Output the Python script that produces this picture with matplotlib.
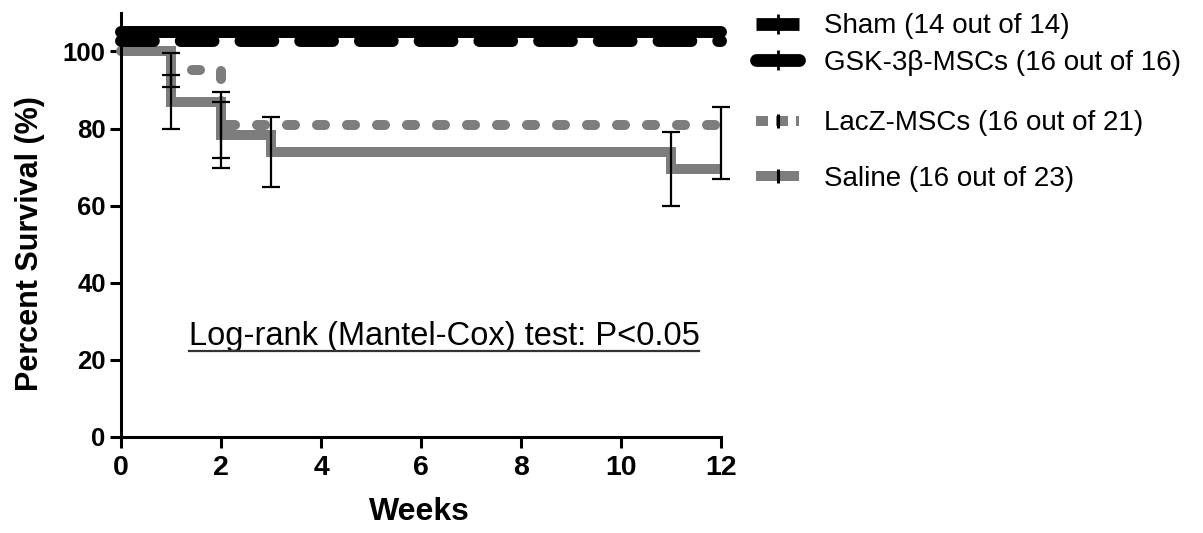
import matplotlib
matplotlib.use("Agg")
import matplotlib.pyplot as plt
import matplotlib.transforms as mtransforms
from matplotlib.lines import Line2D
import numpy as np

plt.rcParams['font.family'] = ['Liberation Sans', 'DejaVu Sans']

# ---- data ----
weeks_sham = [0, 12]
surv_sham = [100, 100]
weeks_gsk = [0, 12]
surv_gsk = [100, 100]
weeks_lacz = [0, 1, 2, 12]
surv_lacz = [100, 95.2, 81.0, 81.0]
weeks_saline = [0, 1, 2, 3, 11, 12]
surv_saline = [100, 87.0, 78.3, 73.9, 69.6, 69.6]

err_x = [1, 1, 2, 2, 3, 11, 12]
err_lo = [80.0, 90.7, 69.7, 72.4, 64.8, 60.0, 66.8]
err_hi = [93.8, 99.7, 86.9, 89.5, 83.0, 79.2, 85.5]

labels = ["Sham (14 out of 14)", "GSK-3\u03b2-MSCs (16 out of 16)",
          "LacZ-MSCs (16 out of 21)", "Saline (16 out of 23)"]
xticks = [0, 2, 4, 6, 8, 10, 12]
yticks = [0, 20, 40, 60, 80, 100]
annot = "Log-rank (Mantel-Cox) test: P<0.05"

GRAY = '#7d7d7d'

fig = plt.figure(figsize=(12.03, 5.33), dpi=100)
ax = fig.add_axes([121/1203, 96/533, 600/1203, 0.7956])
ax.set_xlim(0, 12)
ax.set_ylim(0, 110)

# saline
ax.plot(weeks_saline, surv_saline, drawstyle='steps-post', color=GRAY, lw=7.2,
        solid_capstyle='butt', solid_joinstyle='miter', zorder=2, clip_on=False)
# lacz
ax.plot(weeks_lacz, surv_lacz, drawstyle='steps-post', color=GRAY, lw=7.2,
        dashes=(0.8, 2.2), dash_capstyle='round', zorder=2, clip_on=False)

# sham & gsk drawn at 100 with a visual offset (as in the source figure)
off_sham = mtransforms.offset_copy(ax.transData, fig=fig, x=0, y=14.0, units='points')
off_gsk = mtransforms.offset_copy(ax.transData, fig=fig, x=0, y=7.4, units='points')
ax.plot(weeks_gsk, surv_gsk, color='black', lw=8.6, dashes=(2.75, 2.25),
        dash_capstyle='round', transform=off_gsk, zorder=3, clip_on=False)
ax.plot(weeks_sham, surv_sham, color='black', lw=8.6, solid_capstyle='round',
        transform=off_sham, zorder=4, clip_on=False)

# error bars
err_lo_a = np.array(err_lo)
err_hi_a = np.array(err_hi)
mid = (err_lo_a + err_hi_a) / 2
half = (err_hi_a - err_lo_a) / 2
ax.errorbar(err_x, mid, yerr=half, fmt='none', ecolor='black', elinewidth=1.6,
            capsize=6.5, capthick=1.6, zorder=5, clip_on=False)

# axes styling
for s in ['top', 'right']:
    ax.spines[s].set_visible(False)
for s in ['left', 'bottom']:
    ax.spines[s].set_linewidth(2.2)
ax.set_xticks(xticks)
ax.set_yticks(yticks)
ax.tick_params(axis='both', direction='out', length=8, width=2.2)
ax.tick_params(axis='y', labelsize=18.5, pad=3)
ax.tick_params(axis='x', labelsize=20.5, pad=5)
for lab in ax.get_xticklabels() + ax.get_yticklabels():
    lab.set_fontweight('bold')

ax.set_xlabel("Weeks", fontsize=23, fontweight='bold')
ax.xaxis.set_label_coords(0.498, -0.176)
ax.xaxis.label.set_va('center')
ax.set_ylabel("Percent Survival (%)", fontsize=22, fontweight='bold')
ax.yaxis.set_label_coords(-0.152, 0.456)
ax.yaxis.label.set_va('center')

# annotation with underline
t = ax.text(6.46, 26.0, annot, fontsize=23.5, ha='center', va='center', color='black')

# legends
h_sham = Line2D([], [], color='black', lw=9.2, solid_capstyle='butt',
                marker='|', markersize=14, markeredgewidth=2, markeredgecolor='black')
h_gsk = Line2D([], [], color='black', lw=9.2, solid_capstyle='round',
               marker='|', markersize=14, markeredgewidth=2, markeredgecolor='black')
h_lacz = Line2D([], [], color=GRAY, lw=7.2, dashes=(1.2, 0.8),
                marker='|', markersize=10, markeredgewidth=2.2, markeredgecolor='black')
h_sal = Line2D([], [], color=GRAY, lw=7.2, solid_capstyle='butt',
               marker='|', markersize=10, markeredgewidth=2.2, markeredgecolor='black')

leg1 = fig.legend([h_sham, h_gsk], labels[:2], loc='center left',
                  bbox_to_anchor=(756/1203, 1 - 44.5/533), frameon=False,
                  fontsize=20, handlelength=1.55, handletextpad=0.9,
                  labelspacing=0.38, borderpad=0, borderaxespad=0, numpoints=1)
leg2 = fig.legend([h_lacz, h_sal], labels[2:], loc='center left',
                  bbox_to_anchor=(756/1203, 1 - 151/533), frameon=False,
                  fontsize=20, handlelength=1.55, handletextpad=0.9,
                  labelspacing=1.05, borderpad=0, borderaxespad=0, numpoints=1)

fig.canvas.draw()
bb = t.get_window_extent(renderer=fig.canvas.get_renderer())
inv = fig.transFigure.inverted()
(x0, y0), (x1, _) = inv.transform([(bb.x0, bb.y0 + 1), (bb.x1, bb.y0 + 1)])
fig.add_artist(Line2D([x0, x1], [y0, y0], transform=fig.transFigure,
                      color='#333333', lw=1.6))

fig.savefig("out.png", dpi=100)
